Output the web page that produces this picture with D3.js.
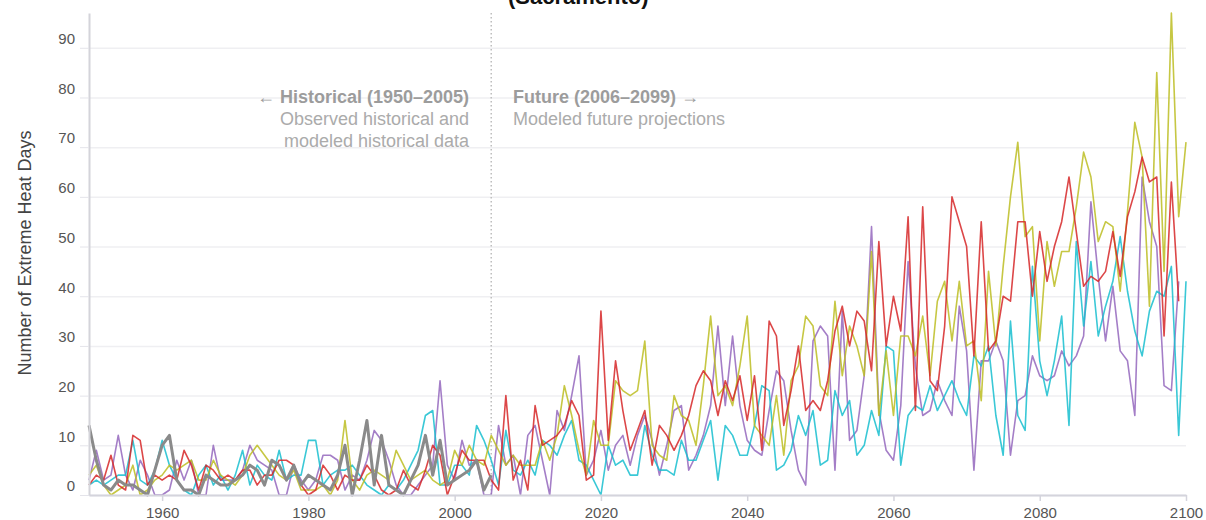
<!DOCTYPE html>
<html>
<head>
<meta charset="utf-8">
<script src="https://cdn.jsdelivr.net/npm/d3@7"></script>
<style>
  body { margin: 0; background: #fff; }
  svg { font-family: "Liberation Sans", Arial, Helvetica, sans-serif; }
  .grid line { stroke: #efeff2; stroke-width: 1.5; }
  .grid .domain { display: none; }
  .yaxis .domain { stroke: #d4d4da; stroke-width: 2; }
  .yaxis line { stroke: #e4e4ea; }
  .xaxis .domain { stroke: #d4d4dc; stroke-width: 2; }
  .xaxis line { stroke: #d4d4dc; stroke-width: 1.5; }
  .tick text { fill: #555; font-size: 15px; }
</style>
</head>
<body>
<div id="chart"></div>
<script>
// yearly counts of extreme heat days
const firstYear = 1950;

const observed = [
  14,7,2,1,3,2,2,1,0,5,
  10,12,3,1,1,0,4,3,2,2,
  3,4,6,5,2,7,6,3,6,2,
  4,3,2,1,4,10,0,7,15,2,
  12,2,1,0,3,6,12,4,11,2,
  3,4,5,7,1,4
];

const red = [
  2,4,3,8,2,1,12,11,2,4,
  3,4,3,9,6,1,6,5,3,4,
  3,5,5,2,4,4,7,7,6,2,
  0,1,6,4,1,4,3,3,6,4,
  1,0,1,5,2,1,5,10,8,0,
  4,9,7,7,7,3,1,20,3,7,
  1,18,10,11,12,14,19,16,3,4,
  37,11,27,17,9,13,17,6,14,12,
  9,12,16,22,25,23,16,23,19,24,
  15,24,9,35,32,14,21,30,17,19,
  17,23,33,38,30,37,35,25,51,30,
  40,33,56,17,58,23,21,34,60,55,
  50,28,55,29,31,40,39,55,55,40,
  53,43,50,55,64,53,42,44,43,45,
  53,44,56,61,68,63,64,32,63,39
];

const yellow = [
  4,6,2,0,1,2,6,0,1,3,
  4,6,5,6,7,3,3,7,4,3,
  2,4,8,10,8,6,4,3,5,1,
  1,1,2,0,3,15,3,1,4,5,
  4,3,9,6,3,4,5,3,2,3,
  9,6,10,7,6,12,9,6,8,6,
  6,6,11,7,12,22,16,9,4,15,
  10,10,23,21,20,21,31,10,8,7,
  20,16,15,10,22,36,20,22,18,26,
  36,14,12,10,20,8,23,26,36,34,
  22,20,39,24,34,30,24,49,16,29,
  16,32,32,28,36,24,39,43,31,43,
  30,31,19,45,30,46,60,71,52,54,
  31,51,42,49,49,58,69,64,51,55,
  54,41,57,75,68,38,85,45,97,56,
  71
];

const cyan = [
  2,3,2,3,4,4,11,3,2,5,
  11,6,3,1,0,4,6,2,4,1,
  4,9,2,6,4,3,9,3,4,4,
  11,11,2,4,5,5,6,4,2,1,
  0,2,1,3,6,9,16,17,2,2,
  6,6,4,14,11,7,2,13,5,4,
  7,4,11,10,8,12,15,7,6,3,
  0,10,6,7,4,4,14,8,5,5,
  4,11,7,7,11,15,3,14,12,8,
  8,14,22,21,5,6,9,16,12,17,
  6,7,21,16,19,8,10,17,12,30,
  29,6,16,18,17,22,17,20,23,19,
  16,28,26,30,16,8,35,16,13,46,
  27,20,27,36,14,51,34,47,32,38,
  43,52,41,33,28,37,41,40,46,12,
  43
];

const purple = [
  3,9,3,4,12,4,1,7,4,0,
  0,1,7,3,7,0,0,10,3,3,
  3,5,10,7,6,5,0,0,6,3,
  1,3,8,8,7,1,4,3,7,13,
  11,7,2,0,0,2,4,6,23,6,
  3,11,6,7,0,0,14,6,8,0,
  12,14,7,0,17,13,20,28,4,7,
  13,5,10,12,6,12,16,11,4,10,
  17,18,5,8,12,18,34,18,32,18,
  11,9,8,17,25,23,13,5,2,31,
  34,32,5,37,11,13,24,54,17,9,
  7,18,47,26,16,17,23,19,16,38,
  29,5,27,27,31,27,8,19,20,28,
  24,23,24,29,26,28,32,59,44,31,
  42,29,27,16,64,55,50,22,21,43
];

const yTicks = [0,10,20,30,40,50,60,70,80,90];
const xTicks = [1960,1980,2000,2020,2040,2060,2080,2100];
const splitYear = 2005;

var width = 1206, height = 520;
var margin = {top: 13, right: 20, bottom: 25, left: 89};

var svg = d3.select("#chart").append("svg")
  .attr("width", width)
  .attr("height", height);

var x = d3.scaleLinear()
  .domain([1950, 2100])
  .range([margin.left, width - margin.right]);
var y = d3.scaleLinear()
  .domain([0, 97])
  .range([height - margin.bottom, margin.top]);

// title, mostly scrolled off the top in the original
svg.append("text")
  .attr("x", 508).attr("y", 4)
  .style("font-size", "22px").style("font-weight", "bold").style("fill", "#111")
  .text("(Sacramento)");

// gridlines
svg.append("g")
  .attr("class", "grid")
  .attr("transform", "translate(" + margin.left + ",0)")
  .call(d3.axisLeft(y).tickValues(yTicks).tickSize(-(width - margin.right - margin.left)).tickFormat(""));

// historical / future divider
svg.append("line")
  .attr("x1", x(splitYear)).attr("x2", x(splitYear))
  .attr("y1", margin.top).attr("y2", y(0))
  .style("stroke", "#bdbdbd").style("stroke-width", 1.5)
  .style("stroke-dasharray", "1.5,2.5");

var note = svg.append("g").style("font-size", "18px");
note.append("text").attr("x", 469).attr("y", 103).attr("text-anchor", "end")
  .style("font-weight", "bold").style("fill", "#9c9c9c")
  .text("\u2190 Historical (1950\u20132005)");
note.append("text").attr("x", 469).attr("y", 125).attr("text-anchor", "end")
  .style("fill", "#ababab").text("Observed historical and");
note.append("text").attr("x", 469).attr("y", 147).attr("text-anchor", "end")
  .style("fill", "#ababab").text("modeled historical data");
note.append("text").attr("x", 513).attr("y", 103)
  .style("font-weight", "bold").style("fill", "#9c9c9c")
  .text("Future (2006\u20132099) \u2192");
note.append("text").attr("x", 513).attr("y", 125)
  .style("fill", "#ababab").text("Modeled future projections");

// series
var line = d3.line()
  .x(function(d, i) { return x(firstYear + i); })
  .y(function(d) { return y(d); });

var series = [
  {name: "purple", values: purple, color: "#9467bd"},
  {name: "cyan", values: cyan, color: "#17becf"},
  {name: "yellow", values: yellow, color: "#bcbd22"},
  {name: "red", values: red, color: "#d62728"}
];

svg.selectAll(".series")
  .data(series)
  .enter().append("path")
  .attr("class", "series")
  .attr("d", function(d) { return line(d.values); })
  .style("fill", "none")
  .style("stroke", function(d) { return d.color; })
  .style("stroke-width", 1.6)
  .style("stroke-opacity", 0.85)
  .style("stroke-linejoin", "round");

svg.append("path")
  .attr("d", line(observed))
  .style("fill", "none")
  .style("stroke", "#8a8a8a")
  .style("stroke-width", 3)
  .style("stroke-linejoin", "round");

// axes
var yAxis = svg.append("g")
  .attr("class", "yaxis")
  .attr("transform", "translate(" + margin.left + ",0)")
  .call(d3.axisLeft(y).tickValues(yTicks).tickSize(9).tickPadding(5).tickSizeOuter(0));
yAxis.selectAll(".tick text").attr("y", -9);

svg.append("g")
  .attr("class", "xaxis")
  .attr("transform", "translate(0," + y(0) + ")")
  .call(d3.axisBottom(x).tickValues(xTicks).tickFormat(d3.format("d")).tickSize(6).tickPadding(6).tickSizeOuter(0));

svg.append("text")
  .attr("transform", "translate(31," + 253 + ") rotate(-90)")
  .attr("text-anchor", "middle")
  .style("font-size", "18px").style("fill", "#444")
  .text("Number of Extreme Heat Days");
</script>
</body>
</html>
